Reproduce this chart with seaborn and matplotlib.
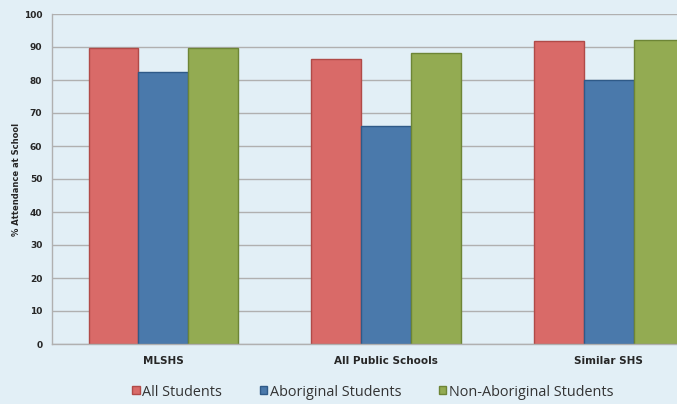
import pandas as pd
import matplotlib.pyplot as plt
import seaborn as sns

schools = ["MLSHS", "All Public Schools", "Similar SHS"]
groups = ["All Students", "Aboriginal Students", "Non-Aboriginal Students"]
all_students = [89.6, 86.5, 91.7]
aboriginal = [82.3, 66.0, 80.0]
non_aboriginal = [89.8, 88.2, 92.0]
yticks = [0, 10, 20, 30, 40, 50, 60, 70, 80, 90, 100]

df = pd.DataFrame({
    "School": schools * 3,
    "Group": [groups[0]] * 3 + [groups[1]] * 3 + [groups[2]] * 3,
    "Attendance": all_students + aboriginal + non_aboriginal,
})

bg = "#e2eff6"
palette = ["#d96a68", "#4a79ab", "#93ab52"]
edges = ["#b04a48", "#2f5a88", "#6d8536"]

sns.set_style("white")
fig = plt.figure(figsize=(6.77, 4.04), dpi=100, facecolor=bg)
# the original picture is cropped on the right, so the axes run past the edge
ax = fig.add_axes([52 / 677, (404 - 344) / 404, (720 - 52) / 677, 330 / 404])
ax.set_facecolor(bg)

sns.barplot(data=df, x="School", y="Attendance", hue="Group", hue_order=groups,
            palette=palette, saturation=1, width=0.67, gap=0, ax=ax,
            legend=False, linewidth=1)
for i, cont in enumerate(ax.containers):
    for bar in cont:
        bar.set_edgecolor(edges[i])

ax.set_ylim(0, 100)
ax.set_xlim(-0.5, 2.5)
ax.set_yticks(yticks)
ax.set_yticklabels([str(t) for t in yticks], fontsize=6.5, fontweight="bold")
ax.yaxis.grid(True, color="#b0b0b0", linewidth=1)
ax.set_axisbelow(True)
ax.set_xticks([0, 1, 2])
ax.set_xticklabels(schools, fontsize=7.5, fontweight="bold")
ax.set_xticks([0.5, 1.5], minor=True)
ax.tick_params(axis="x", which="major", length=0, pad=9)
ax.tick_params(axis="x", which="minor", length=3, color="#b0b0b0", direction="out")
ax.tick_params(axis="y", length=3, color="#b0b0b0", direction="out", pad=4)
ax.set_xlabel("")
ax.set_ylabel("% Attendance at School", fontsize=6, fontweight="bold", labelpad=2)
for s in ["top", "right"]:
    ax.spines[s].set_visible(False)
for s in ["left", "bottom"]:
    ax.spines[s].set_color("#b0b0b0")
    ax.spines[s].set_linewidth(1)

handles = [plt.Rectangle((0, 0), 1, 1, facecolor=palette[i], edgecolor=edges[i]) for i in range(3)]
fig.legend(handles, groups, loc="center", bbox_to_anchor=(373 / 677, 1 - 392 / 404),
           ncol=3, frameon=False, handlelength=0.5, handleheight=0.5,
           handletextpad=0.2, columnspacing=2.6, labelcolor="#333333",
           prop={"family": "Open Sans", "size": 10.4})

fig.savefig("out.png", dpi=100, facecolor=bg)
